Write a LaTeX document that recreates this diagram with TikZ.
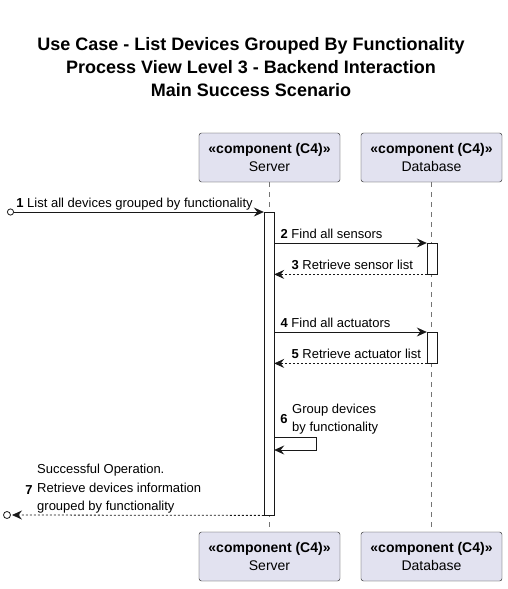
\documentclass[tikz,border=0pt]{standalone}
\usepackage{fontspec}
\setmainfont{Liberation Sans}
\usetikzlibrary{arrows.meta}
\definecolor{partfill}{HTML}{E2E2F0}
\definecolor{ink}{HTML}{181818}
\begin{document}
\begin{tikzpicture}[x=1pt, y=-1pt,
	part/.style={draw=ink, fill=partfill, rounded corners=2.5pt, minimum width=141pt, minimum height=49pt, align=center, inner sep=0pt, font=\fontsize{14}{18}\selectfont},
	act/.style={draw=ink, fill=white, minimum width=10pt, inner sep=0pt, anchor=north},
	life/.style={draw=ink!60, dashed, dash pattern=on 5pt off 5pt, line width=0.5pt},
	tip/.style={-{Stealth[length=10pt, width=9pt, inset=3.5pt]}},
	msg/.style={draw=ink, line width=0.8pt, tip},
	ret/.style={msg, dash pattern=on 2pt off 2pt},
	lbl/.style={inner sep=0pt, align=left, font=\fontsize{13}{17.5}\selectfont},
	num/.style={inner sep=0pt, font=\fontsize{13}{17.5}\selectfont\bfseries}]
	\useasboundingbox (0,0) rectangle (507,589);
	% title
	\node[align=center, font=\fontsize{18}{23}\selectfont\bfseries] (title) at (251,67) {Use Case - List Devices Grouped By Functionality\\Process View Level 3 - Backend Interaction\\Main Success Scenario};
	% participants
	\node[part] (serverTop) at (269.5,157.5) {\textbf{«component (C4)»}\\Server};
	\node[part] (dbTop) at (431.5,157.5) {\textbf{«component (C4)»}\\Database};
	\node[part] (serverBot) at (269.5,556.5) {\textbf{«component (C4)»}\\Server};
	\node[part] (dbBot) at (431.5,556.5) {\textbf{«component (C4)»}\\Database};
	\draw[life] (serverTop) -- (serverBot);
	\draw[life] (dbTop) -- (dbBot);
	% activations
	\node[act, minimum height=303pt] (actS) at (269,212) {};
	\node[act, minimum height=31pt] (actD1) at (432,243) {};
	\node[act, minimum height=31pt] (actD2) at (432,332) {};
	\coordinate (inA) at (7,212);
	\coordinate (outA) at (7,515);
	\coordinate (outTip) at (12,515);
	\coordinate (selfA) at (316,437);
	\coordinate (selfB) at (316,450);
	% messages
	\draw[msg, {Circle[open, length=7pt, width=7pt]}-{Stealth[length=10pt, width=9pt, inset=3.5pt]}] (inA) -- (actS.north west)
		node[pos=0, anchor=base west, xshift=9pt, yshift=5pt, lbl] {\textbf{1} List all devices grouped by functionality};
	\draw[msg] (actS.east |- actD1.north) -- (actD1.north west)
		node[pos=0, anchor=base west, xshift=6pt, yshift=5pt, lbl] {\textbf{2} Find all sensors};
	\draw[ret] (actD1.south west) -- (actS.east |- actD1.south)
		node[pos=1, anchor=base west, xshift=17pt, yshift=5pt, lbl] {\textbf{3} Retrieve sensor list};
	\draw[msg] (actS.east |- actD2.north) -- (actD2.north west)
		node[pos=0, anchor=base west, xshift=6pt, yshift=5pt, lbl] {\textbf{4} Find all actuators};
	\draw[ret] (actD2.south west) -- (actS.east |- actD2.south)
		node[pos=1, anchor=base west, xshift=17pt, yshift=5pt, lbl] {\textbf{5} Retrieve actuator list};
	\draw[msg] (actS.east |- selfA) -- (selfA) -- (selfB) -- (actS.east |- selfB);
	\node[num] (n6) at (284,419) {6};
	\node[lbl, anchor=west] (t6) at (292,419) {Group devices\\by functionality};
	\draw[ret] (actS.south west) -- (outTip);
	\draw[draw=ink, line width=0.8pt] (outA) circle (3.5pt);
	\node[num] (n7) at (29,490) {7};
	\node[lbl, anchor=west, font=\fontsize{13}{18.5}\selectfont] (t7) at (37,489) {Successful Operation.\\Retrieve devices information\\grouped by functionality};
\end{tikzpicture}
\end{document}
